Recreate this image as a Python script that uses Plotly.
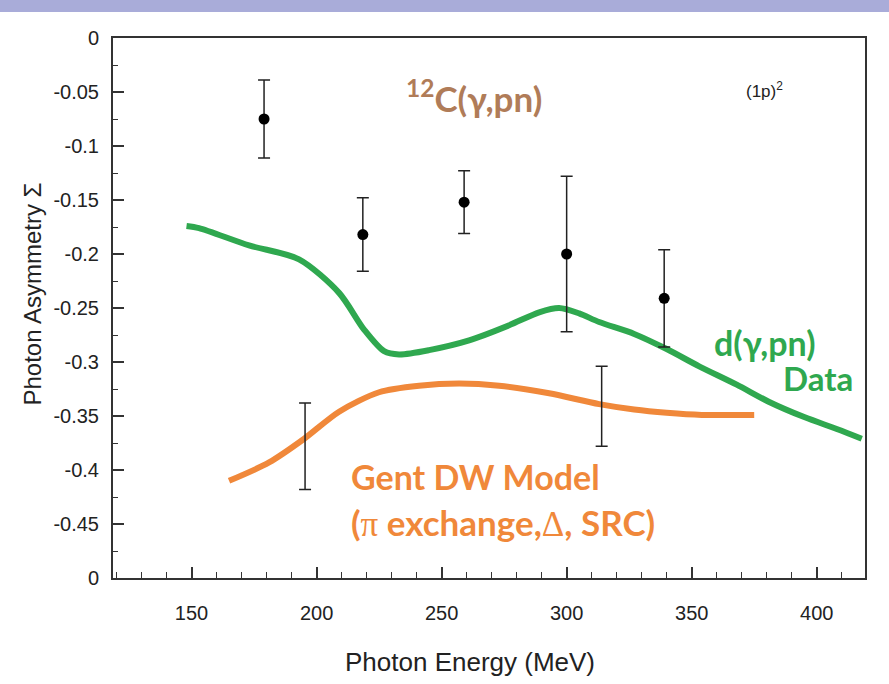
import plotly.graph_objects as go

# Measured data points (12C(gamma,pn))
data_x = [179, 218.5, 259, 300, 339]
data_y = [-0.075, -0.182, -0.152, -0.200, -0.241]
data_err = [0.036, 0.034, 0.029, 0.072, 0.045]

# Error bars without visible markers (lower points)
low_x = [195.4, 314]
low_y = [-0.378, -0.341]
low_err = [0.040, 0.037]

# d(gamma,pn) data curve
green_x = [148, 153, 173, 193, 209, 219, 227, 233, 245, 261, 277, 289, 297, 305, 313, 327, 340, 353, 368, 381, 395, 408, 418]
green_y = [-0.174, -0.176, -0.192, -0.205, -0.236, -0.270, -0.290, -0.293, -0.289, -0.280, -0.266, -0.254, -0.250, -0.255, -0.263, -0.274, -0.288, -0.304, -0.321, -0.337, -0.351, -0.362, -0.371]

# Gent DW model curve
orange_x = [165, 181, 194.5, 209, 225, 241, 257, 273, 293, 313, 327, 340, 354, 375]
orange_y = [-0.410, -0.393, -0.372, -0.346, -0.328, -0.322, -0.320, -0.322, -0.329, -0.339, -0.344, -0.347, -0.349, -0.349]

y_tickvals = [0, -0.05, -0.1, -0.15, -0.2, -0.25, -0.3, -0.35, -0.4, -0.45, -0.5]
y_ticktext = ["0", "-0.05", "-0.1", "-0.15", "-0.2", "-0.25", "-0.3", "-0.35", "-0.4", "-0.45", "0"]
x_tickvals = [150, 200, 250, 300, 350, 400]

GREEN = "#2fa84f"
ORANGE = "#f0883a"
BROWN = "#b07c58"
TXTFONT = "Lato"
SERIF = "<span style='font-family:Liberation Serif;font-weight:normal'>%s</span>"

fig = go.Figure()
fig.add_trace(go.Scatter(x=green_x, y=green_y, mode="lines",
                         line=dict(color=GREEN, width=6, shape="spline", smoothing=0.8),
                         showlegend=False, hoverinfo="skip"))
fig.add_trace(go.Scatter(x=orange_x, y=orange_y, mode="lines",
                         line=dict(color=ORANGE, width=6, shape="spline", smoothing=0.8),
                         showlegend=False, hoverinfo="skip"))
fig.add_trace(go.Scatter(x=low_x, y=low_y, mode="markers",
                         marker=dict(size=1, color="rgba(0,0,0,0)"),
                         error_y=dict(type="data", array=low_err, color="#222", thickness=1.5, width=6),
                         showlegend=False))
fig.add_trace(go.Scatter(x=data_x, y=data_y, mode="markers",
                         marker=dict(size=11, color="black"),
                         error_y=dict(type="data", array=data_err, color="#222", thickness=1.5, width=6),
                         showlegend=False))

annotations = [
    dict(x=263, y=-0.0535, text="<sup>12</sup>C(γ,pn)", font=dict(family=TXTFONT, size=35, color=BROWN, weight="bold"),
         xanchor="center", yanchor="middle", showarrow=False),
    dict(x=379, y=-0.048, text="(1p)<sup>2</sup>", font=dict(family="Liberation Sans", size=17, color="#222"),
         xanchor="center", yanchor="middle", showarrow=False),
    dict(x=379.5, y=-0.282, text="d(γ,pn)", font=dict(family=TXTFONT, size=34, color=GREEN, weight="bold"),
         xanchor="center", yanchor="middle", showarrow=False),
    dict(x=400.5, y=-0.315, text="Data", font=dict(family=TXTFONT, size=33, color=GREEN, weight="bold"),
         xanchor="center", yanchor="middle", showarrow=False),
    dict(x=213, y=-0.406, text="Gent DW Model", font=dict(family=TXTFONT, size=34, color=ORANGE, weight="bold"),
         xanchor="left", yanchor="middle", showarrow=False),
    dict(x=213, y=-0.449,
         text="(" + SERIF % "π" + " exchange," + SERIF % "Δ" + ", SRC)",
         font=dict(family=TXTFONT, size=35, color=ORANGE, weight="bold"),
         xanchor="left", yanchor="middle", showarrow=False),
    # axis titles
    dict(xref="paper", yref="paper", x=(343 - 113) / 752, y=-(662 - 578) / 540,
         text="Photon Energy (MeV)", font=dict(family="Liberation Sans", size=26, color="#222"),
         xanchor="left", yanchor="middle", showarrow=False),
    dict(xref="paper", yref="paper", x=(32 - 113) / 752, y=(578 - 408) / 540,
         text="Photon Asymmetry Σ", textangle=-90, font=dict(family="Liberation Sans", size=24, color="#222"),
         xanchor="center", yanchor="bottom", showarrow=False),
]

fig.update_layout(
    width=889, height=684,
    margin=dict(l=113, r=24, t=38, b=106),
    paper_bgcolor="white", plot_bgcolor="white",
    font=dict(family="Liberation Sans", color="#222"),
    annotations=annotations,
    shapes=[dict(type="rect", xref="paper", yref="paper", x0=-0.2, x1=1.2, y0=1.0 + 26/540, y1=1.2,
                 fillcolor="#a9acd9", line=dict(width=0), layer="above")],
    xaxis=dict(range=[118.6, 419.3], showgrid=False, zeroline=False,
               showline=True, linecolor="#333", linewidth=2, mirror=True,
               ticks="inside", ticklen=11, tickwidth=1.5, tickcolor="#333",
               tickmode="array", tickvals=x_tickvals,
               minor=dict(dtick=10, tick0=0, ticks="inside", ticklen=6, tickwidth=1.2, tickcolor="#333", showgrid=False),
               tickfont=dict(family="Liberation Sans", size=20, color="#222"), ticklabelstandoff=16),
    yaxis=dict(range=[-0.5, 0], showgrid=False, zeroline=False,
               showline=True, linecolor="#333", linewidth=2, mirror=True,
               ticks="inside", ticklen=11, tickwidth=1.5, tickcolor="#333",
               tickmode="array", tickvals=y_tickvals, ticktext=y_ticktext,
               minor=dict(dtick=0.025, tick0=0, ticks="inside", ticklen=5, tickwidth=1.2, tickcolor="#333", showgrid=False),
               tickfont=dict(family="Liberation Sans", size=20, color="#222"), ticklabelstandoff=8),
)

fig.write_html("out.html")
